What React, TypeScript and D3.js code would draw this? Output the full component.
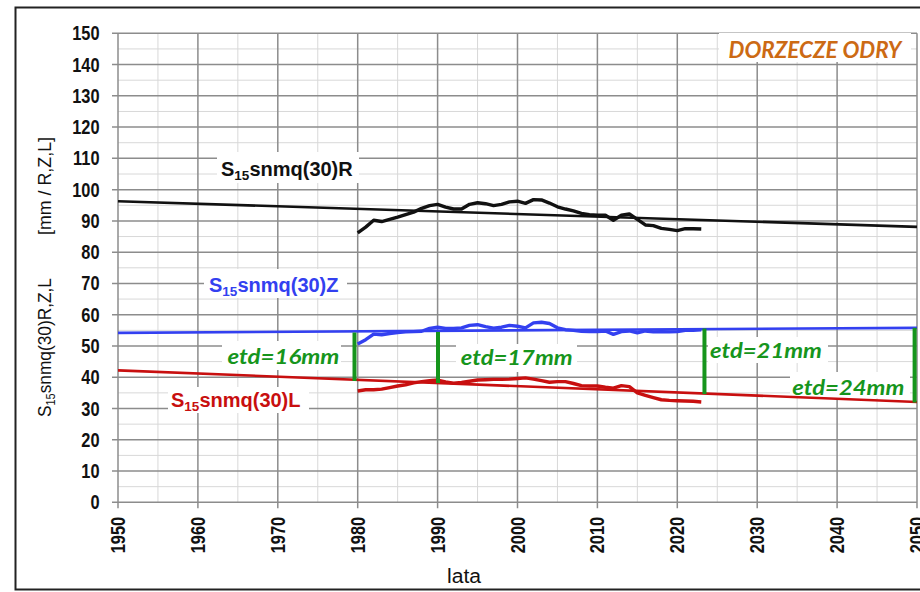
import React from "react";
import * as d3 from "d3";

const years = d3.range(1980, 2024);
const seriesR = [86.2, 88.0, 90.2, 89.8, 90.5, 91.2, 92.0, 92.8, 94.0, 94.9, 95.3, 94.4, 93.8, 93.8, 95.3, 95.8, 95.5, 94.9, 95.3, 96.1, 96.3, 95.6, 96.8, 96.7, 95.7, 94.5, 93.8, 93.2, 92.4, 92.0, 91.8, 91.8, 90.2, 91.8, 92.2, 90.5, 88.7, 88.5, 87.6, 87.3, 86.9, 87.5, 87.5, 87.4];
const seriesZ = [50.6, 52.0, 53.8, 53.6, 54.0, 54.3, 54.5, 54.6, 54.7, 55.6, 56.0, 55.6, 55.6, 55.8, 56.6, 56.8, 56.2, 55.7, 56.0, 56.6, 56.3, 55.8, 57.4, 57.6, 57.2, 55.8, 55.2, 55.0, 54.7, 54.6, 54.6, 54.8, 53.7, 54.6, 54.8, 54.2, 54.8, 54.5, 54.6, 54.5, 54.6, 55.0, 55.0, 55.2];
const seriesL = [35.6, 36.0, 36.0, 36.2, 36.7, 37.2, 37.6, 38.2, 38.6, 38.9, 39.1, 38.5, 38.1, 38.3, 38.7, 39.1, 39.2, 39.3, 39.3, 39.4, 39.6, 39.8, 39.4, 38.9, 38.4, 38.6, 38.6, 38.0, 37.3, 37.2, 37.2, 36.8, 36.5, 37.3, 37.0, 35.0, 34.2, 33.5, 32.8, 32.6, 32.5, 32.4, 32.3, 32.1];

const trendYears = [1950, 2050];
const trendR = [96.3, 88.1];
const trendZ = [54.2, 55.8];
const trendL = [42.2, 32.1];

const etdYears = [1979.6, 1990.05, 2023.4, 2049.7];
const etdTop = [54.3, 54.5, 55.6, 55.8];
const etdBottom = [38.8, 38.1, 34.6, 31.9];
const etdLabels = ["etd=16mm", "etd=17mm", "etd=21mm", "etd=24mm"];
const etdLabelX = [1970.7, 1999.9, 2031.1, 2041.4];
const etdLabelY = [44.3, 43.8, 46.3, 34.4];

const yTicks = d3.range(0, 151, 10);
const xTicks = d3.range(1950, 2051, 10);

const COLORS = { R: "#111111", Z: "#3340f0", L: "#c80f0f", etd: "#16951c", title: "#cc6a14" };
const SANS = "'Liberation Sans', Arial, sans-serif";
const CAL = "Lato, 'Open Sans', sans-serif";

export default function App() {
  const x = d3.scaleLinear().domain([1950, 2050]).range([118, 917]);
  const y = d3.scaleLinear().domain([0, 150]).range([502.3, 33.3]);
  const line = d3.line<[number, number]>().x((d) => x(d[0])).y((d) => y(d[1]));
  const minorY = d3.range(5, 150, 10);
  const minorX = d3.range(1955, 2050, 10);

  const series = [
    { vals: seriesR, c: COLORS.R },
    { vals: seriesZ, c: COLORS.Z },
    { vals: seriesL, c: COLORS.L },
  ];
  const trends = [
    { vals: trendR, c: COLORS.R },
    { vals: trendZ, c: COLORS.Z },
    { vals: trendL, c: COLORS.L },
  ];

  const seriesLabel = (suffix: string, color: string, xs: number, yb: number) => (
    <text x={xs} y={yb} fill={color} fontFamily={SANS} fontWeight="bold" fontSize={20}>
      S<tspan fontSize={13.5} dy={4}>15</tspan>
      <tspan dy={-4}>{"snmq(30)" + suffix}</tspan>
    </text>
  );

  return (
    <svg width={920} height={592} style={{ position: "absolute", left: 0, top: 0, background: "#fff" }}>
      <rect x={0} y={0} width={920} height={592} fill="#fff" />
      <rect x={15.5} y={7.5} width={912} height={582} fill="none" stroke="#222" strokeWidth={2} />
      {/* minor grid */}
      {minorY.map((v) => (
        <line key={"my" + v} x1={x(1950)} x2={x(2050)} y1={y(v)} y2={y(v)} stroke="#d8d8d8" strokeWidth={1} />
      ))}
      {minorX.map((v) => (
        <line key={"mx" + v} x1={x(v)} x2={x(v)} y1={y(0)} y2={y(150)} stroke="#d8d8d8" strokeWidth={1} />
      ))}
      {/* major grid */}
      {yTicks.map((v) => (
        <line key={"gy" + v} x1={x(1950) - 6} x2={x(2050)} y1={y(v)} y2={y(v)} stroke="#8c8c8c" strokeWidth={1.5} />
      ))}
      {xTicks.map((v) => (
        <line key={"gx" + v} x1={x(v)} x2={x(v)} y1={y(0) + 6} y2={y(150)} stroke="#8c8c8c" strokeWidth={1.5} />
      ))}
      {/* white label backgrounds */}
      <rect x={217} y={152} width={142} height={31} fill="#fff" />
      <rect x={204} y={269} width={143} height={29} fill="#fff" />
      <rect x={168} y={387} width={141} height={26} fill="#fff" />
      <rect x={222} y={341} width={119} height={29} fill="#fff" />
      <rect x={456} y={344} width={121} height={28} fill="#fff" />
      <rect x={708} y={337} width={120} height={26} fill="#fff" />
      <rect x={790} y={372} width={120} height={26} fill="#fff" />
      <rect x={719} y={33} width={192} height={29} fill="#fff" />

      {/* trend lines */}
      {trends.map((t, i) => (
        <path key={"t" + i} d={line(trendYears.map((yr, j) => [yr, t.vals[j]]) as [number, number][]) || ""} fill="none" stroke={t.c} strokeWidth={2.6} />
      ))}
      {/* series */}
      {series.map((s, i) => (
        <path key={"s" + i} d={line(years.map((yr, j) => [yr, s.vals[j]]) as [number, number][]) || ""} fill="none" stroke={s.c} strokeWidth={3.4} strokeLinejoin="round" />
      ))}
      {/* etd bars */}
      {etdYears.map((yr, i) => (
        <line key={"e" + i} x1={x(yr)} x2={x(yr)} y1={y(etdTop[i])} y2={y(etdBottom[i])} stroke={COLORS.etd} strokeWidth={4} />
      ))}
      {etdLabels.map((l, i) => (
        <text key={"el" + i} x={x(etdLabelX[i])} y={y(etdLabelY[i])} fill={COLORS.etd} fontFamily={CAL} fontStyle="italic" fontWeight="bold" fontSize={21} textAnchor="middle" textLength={112} lengthAdjust="spacingAndGlyphs">
          {l}
        </text>
      ))}

      {seriesLabel("R", COLORS.R, 221, 176)}
      {seriesLabel("Z", COLORS.Z, 209, 292)}
      {seriesLabel("L", COLORS.L, 171, 407)}

      <text x={815} y={57.5} fill={COLORS.title} fontFamily={CAL} fontStyle="italic" fontWeight="bold" fontSize={22} textAnchor="middle" textLength={173} lengthAdjust="spacingAndGlyphs">
        DORZECZE ODRY
      </text>

      {/* y tick labels */}
      {yTicks.map((v) => (
        <text key={"yl" + v} transform={`translate(99.5,${y(v) + 7}) scale(0.82,1)`} textAnchor="end" fontFamily={SANS} fontWeight="bold" fontSize={20} fill="#111">
          {v}
        </text>
      ))}
      {/* x tick labels */}
      {xTicks.map((v) => (
        <text key={"xl" + v} transform={`translate(${x(v) + 7},${y(0) + 14.5}) rotate(-90) scale(0.82,1)`} textAnchor="end" fontFamily={SANS} fontWeight="bold" fontSize={20} fill="#111">
          {v}
        </text>
      ))}
      <text x={464} y={583} textAnchor="middle" fontFamily={SANS} fontSize={20} fill="#111" textLength={34} lengthAdjust="spacingAndGlyphs">
        lata
      </text>
      <text transform={`translate(51,417) rotate(-90)`} textAnchor="start" fontFamily={SANS} fontSize={19} fill="#111" textLength={139} lengthAdjust="spacingAndGlyphs">
        S<tspan fontSize={12} dy={4}>15</tspan>
        <tspan dy={-4}>{"snmq(30)R,Z,L"}</tspan>
      </text>
      <text transform={`translate(51,235) rotate(-90)`} textAnchor="start" fontFamily={SANS} fontSize={19} fill="#111" textLength={98} lengthAdjust="spacingAndGlyphs">
        {"[mm / R,Z,L]"}
      </text>
    </svg>
  );
}
